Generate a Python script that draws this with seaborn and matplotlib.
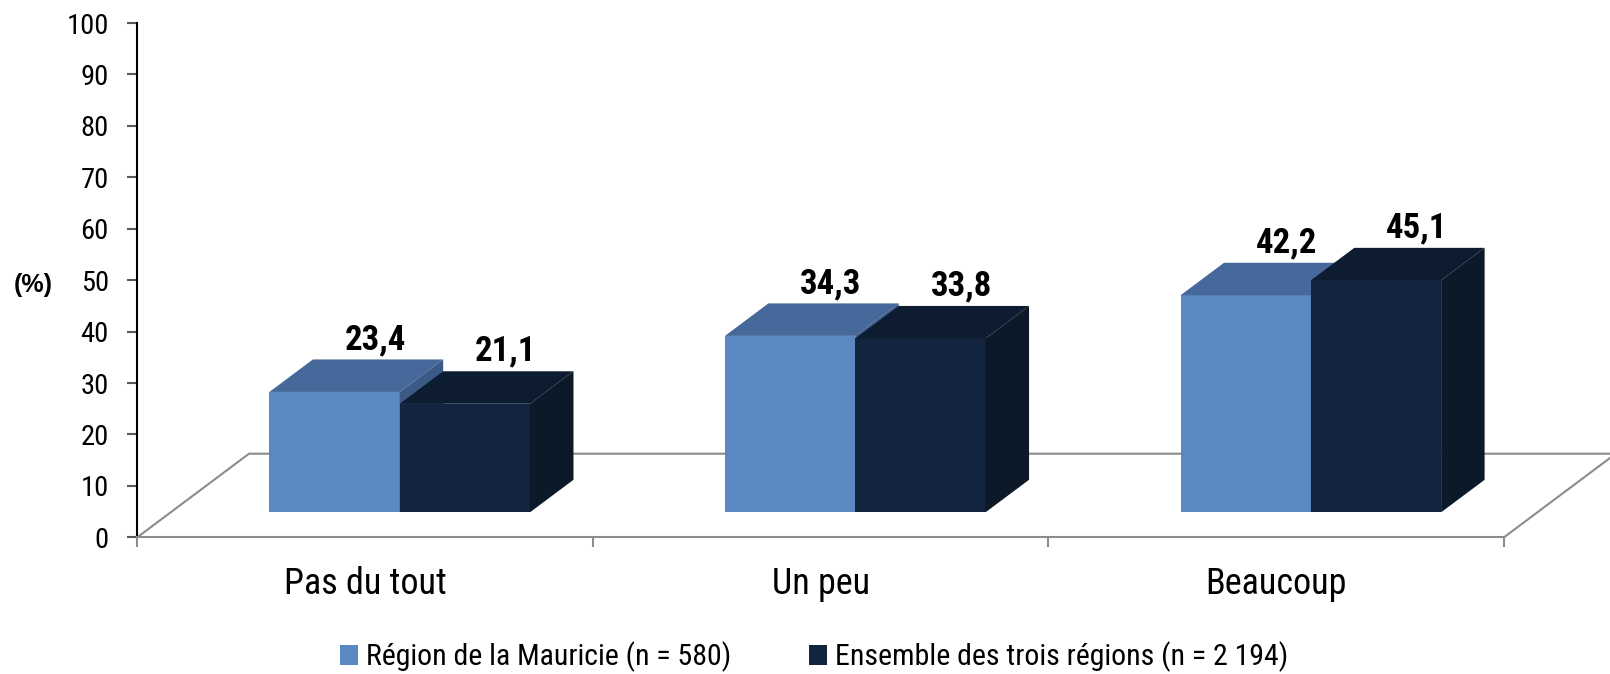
import matplotlib
matplotlib.use('Agg')
import matplotlib.pyplot as plt
from matplotlib import font_manager
from matplotlib.patches import Polygon, Patch
import seaborn as sns
import pandas as pd

# data
categories = ['Pas du tout', 'Un peu', 'Beaucoup']
groups = ['Région de la Mauricie (n = 580)', 'Ensemble des trois régions (n = 2 194)']
mauricie = [23.4, 34.3, 42.2]
ensemble = [21.1, 33.8, 45.1]
yticks = list(range(0, 101, 10))

front_colors = ['#5B88C1', '#12243F']
top_colors = ['#46689A', '#0D1C31']
side_colors = ['#3B5A85', '#0C1929']
floor_color = '#8C8C8C'

sns.set_style('white')

# the original uses Arial Narrow; take a narrow face if one is there
available = {f.name for f in font_manager.fontManager.ttflist}
narrow = next((n for n in ['Liberation Sans Narrow', 'Arial Narrow', 'Roboto Condensed']
               if n in available), None)
if narrow:
    plt.rcParams['font.family'] = [narrow, 'Liberation Sans', 'DejaVu Sans']
    fs_tick, fs_cat, fs_val, fs_leg = 20.5, 26, 25, 21.5
else:
    plt.rcParams['font.family'] = ['Liberation Sans', 'DejaVu Sans']
    fs_tick, fs_cat, fs_val, fs_leg = 18, 23, 22.5, 19.5
plt.rcParams['text.color'] = 'black'

df = pd.DataFrame({
    'categorie': categories * 2,
    'groupe': [groups[0]] * 3 + [groups[1]] * 3,
    'pct': mauricie + ensemble,
})

# layout in pixels (figure is 1610 x 674 at dpi 100)
W, H = 1610, 674
left, bottom, right, top = 137.3, 136.7, 1504.0, 651.0
floor_depth = (111.7, 83.6)   # floor front -> back
bar_shift = (34.6, 25.0)      # bar front plane above the floor front edge
bar_depth = (43.5, 32.5)      # bar front -> back

fig = plt.figure(figsize=(W / 100, H / 100), dpi=100)
ax = fig.add_axes([left / W, bottom / H, (right - left) / W, (top - bottom) / H])
axb = fig.add_axes([(left + bar_shift[0]) / W, (bottom + bar_shift[1]) / H,
                    (right - left) / W, (top - bottom) / H])


def px_to_data(a, dx, dy):
    inv = a.transData.inverted()
    x0, y0 = inv.transform((0, 0))
    x1, y1 = inv.transform((dx, dy))
    return x1 - x0, y1 - y0


# value axis and floor
ax.set_xlim(-0.5, 2.5)
ax.set_ylim(0, 100)
ax.set_yticks(yticks)
ax.set_yticklabels([str(t) for t in yticks], fontsize=fs_tick)
ax.tick_params(axis='y', left=True, length=7, width=1.5, color='#595959',
               labelcolor='black', pad=13.5)
ax.set_xticks([-0.5, 0.5, 1.5, 2.5])
ax.set_xticklabels([])
ax.set_xticks([0, 1, 2], minor=True)
ax.set_xticklabels(categories, minor=True, fontsize=fs_cat)
ax.tick_params(axis='x', which='major', bottom=True, length=7.5, width=1.5, color=floor_color)
ax.tick_params(axis='x', which='minor', bottom=True, length=0, pad=20.5, labelcolor='black')
for s in ['top', 'right']:
    ax.spines[s].set_visible(False)
ax.spines['left'].set_color('black')
ax.spines['left'].set_linewidth(1.5)
ax.spines['bottom'].set_color(floor_color)
ax.spines['bottom'].set_linewidth(1.5)
ax.set_facecolor('none')

fdx, fdy = px_to_data(ax, *floor_depth)
x_lo, x_hi = ax.get_xlim()
ax.plot([x_lo, x_lo + fdx, x_hi + fdx, x_hi], [0, fdy, fdy, 0],
        color=floor_color, lw=1.5, clip_on=False, zorder=1)

# front faces with seaborn
sns.barplot(data=df, x='categorie', y='pct', hue='groupe', hue_order=groups,
            palette=front_colors, width=0.572, saturation=1, linewidth=0,
            legend=False, ax=axb)
axb.set_xlim(-0.5, 2.5)
axb.set_ylim(0, 100)
axb.axis('off')

bdx, bdy = px_to_data(axb, *bar_depth)
bars = list(axb.patches)
order = sorted(range(len(bars)), key=lambda i: bars[i].get_x())
values = mauricie + ensemble
for rank, i in enumerate(order):
    p = bars[i]
    g = 0 if i < len(categories) else 1
    x0, w, h = p.get_x(), p.get_width(), p.get_height()
    x1 = x0 + w
    z = 2 + rank * 0.1
    p.set_zorder(z)
    top_poly = Polygon([(x0, h), (x1, h), (x1 + bdx, h + bdy), (x0 + bdx, h + bdy)],
                       closed=True, facecolor=top_colors[g], edgecolor='none', zorder=z + 0.01)
    side_poly = Polygon([(x1, 0), (x1 + bdx, bdy), (x1 + bdx, h + bdy), (x1, h)],
                        closed=True, facecolor=side_colors[g], edgecolor='none', zorder=z + 0.01)
    axb.add_patch(top_poly)
    axb.add_patch(side_poly)
    label = f'{values[i]:.1f}'.replace('.', ',')
    axb.annotate(label, (x0 + w / 2 + bdx, h + bdy), xytext=(-2, 7.5),
                 textcoords='offset points', ha='center', va='baseline',
                 fontsize=fs_val, fontweight='bold', annotation_clip=False, zorder=10)

fig.text(33.7 / W, 1 - 285 / H, '(%)', ha='center', va='center', fontsize=18,
         fontweight='bold', family=['Liberation Sans', 'DejaVu Sans'])

handles = [Patch(facecolor=c, edgecolor='none') for c in front_colors]
fig.legend(handles, groups, loc='center', bbox_to_anchor=(0.5056, 17 / H), ncol=2,
           frameon=False, fontsize=fs_leg, handlelength=0.62, handleheight=0.62,
           handletextpad=0.25, columnspacing=2.6, borderpad=0)

fig.savefig('out.png', dpi=100)
